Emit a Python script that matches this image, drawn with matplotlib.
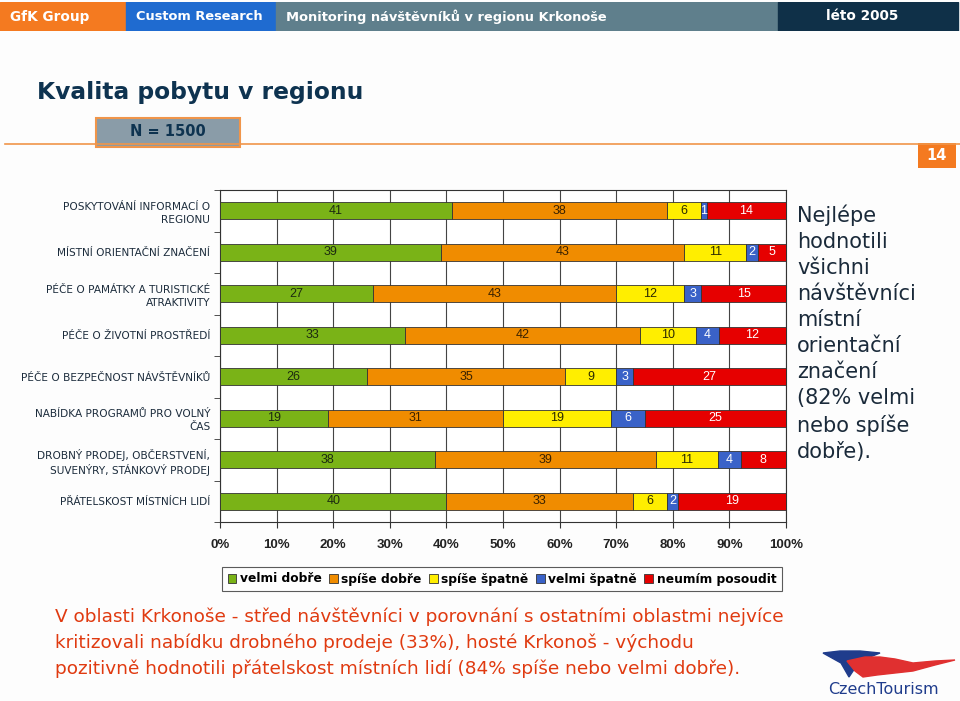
import matplotlib.pyplot as plt
import matplotlib.patches as mpatches
import numpy as np

# data
categories = ["POSKYTOVÁNÍ INFORMACÍ O\nREGIONU",
              "MÍSTNÍ ORIENTAČNÍ ZNAČENÍ",
              "PÉČE O PAMÁTKY A TURISTICKÉ\nATRAKTIVITY",
              "PÉČE O ŽIVOTNÍ PROSTŘEDÍ",
              "PÉČE O BEZPEČNOST NÁVŠTĚVNÍKŮ",
              "NABÍDKA PROGRAMŮ PRO VOLNÝ\nČAS",
              "DROBNÝ PRODEJ, OBČERSTVENÍ,\nSUVENÝRY, STÁNKOVÝ PRODEJ",
              "PŘÁTELSKOST MÍSTNÍCH LIDÍ"]
velmi_dobre = [41, 39, 27, 33, 26, 19, 38, 40]
spise_dobre = [38, 43, 43, 42, 35, 31, 39, 33]
spise_spatne = [6, 11, 12, 10, 9, 19, 11, 6]
velmi_spatne = [1, 2, 3, 4, 3, 6, 4, 2]
neumim = [14, 5, 15, 12, 27, 25, 8, 19]
series_names = ["velmi dobře", "spíše dobře", "spíše špatně", "velmi špatně", "neumím posoudit"]
xticks = [0, 10, 20, 30, 40, 50, 60, 70, 80, 90, 100]

colors = ["#7ab317", "#f08c00", "#ffee00", "#3a62c8", "#e60000"]
text_colors = ["#1c2a10", "#3a2200", "#2a2a00", "white", "white"]

navy = "#0e3350"

fig = plt.figure(figsize=(9.6, 7.01), dpi=100)
fig.patch.set_facecolor("#fdfdfd")

# header bar
hdr = fig.add_axes([0, 1 - 31/701, 1, 29/701])
hdr.set_xlim(0, 960)
hdr.set_ylim(0, 1)
hdr.axis("off")
for x0, x1, c in [(0, 126, "#f47a20"), (126, 276, "#1f6bd0"), (276, 778, "#5f7f8c"), (778, 958, "#0f3048")]:
    hdr.add_patch(mpatches.Rectangle((x0, 0), x1 - x0, 1, color=c))
hdr.text(10, 0.5, "GfK Group", color="white", fontsize=9.8, fontweight="bold", va="center")
hdr.text(136, 0.5, "Custom Research", color="white", fontsize=9.4, fontweight="bold", va="center")
hdr.text(286, 0.5, "Monitoring návštěvníků v regionu Krkonoše", color="white", fontsize=9.4,
         fontweight="bold", va="center")
hdr.text(862, 0.5, "léto 2005", color="white", fontsize=9.8, fontweight="bold", va="center", ha="center")

# title, N box, orange line, page number
fig.text(37/960, 1 - 92/701, "Kvalita pobytu v regionu", color=navy, fontsize=16.8,
         fontweight="bold", va="center")
fig.add_artist(plt.Line2D([5/960, 1], [1 - 144/701] * 2, color="#f0954a", lw=1.2))
fig.add_artist(mpatches.Rectangle((96/960, 1 - 147/701), 144/960, 29/701, transform=fig.transFigure,
                                  facecolor="#8a9ca8", edgecolor="#f0954a", lw=1.5))
fig.text(168/960, 1 - 132/701, "N = 1500", color=navy, fontsize=10.5, fontweight="bold",
         ha="center", va="center")
fig.add_artist(mpatches.Rectangle((918/960, 1 - 168/701), 38/960, 25/701, transform=fig.transFigure,
                                  facecolor="#f47a20", edgecolor="none"))
fig.text(937/960, 1 - 156/701, "14", color="white", fontsize=10.5, fontweight="bold",
         ha="center", va="center")

# main chart
ax = fig.add_axes([220/960, 1 - 522/701, 566/960, 332/701])
data = np.array([velmi_dobre, spise_dobre, spise_spatne, velmi_spatne, neumim], dtype=float)
shares = data / data.sum(axis=0) * 100
y = np.arange(len(categories))
left = np.zeros(len(categories))
for i, name in enumerate(series_names):
    ax.barh(y, shares[i], left=left, height=0.41, color=colors[i], edgecolor="#333333",
            linewidth=0.6, label=name, zorder=3)
    for j in range(len(categories)):
        ax.text(left[j] + shares[i][j] / 2, y[j], "%d" % data[i][j], ha="center", va="center",
                fontsize=9, color=text_colors[i], family="Liberation Sans", zorder=4)
    left += shares[i]

ax.set_xlim(0, 100)
ax.set_ylim(7.48, -0.43)
ax.set_xticks(xticks)
ax.set_xticklabels(["%d%%" % t for t in xticks], fontsize=9.5, fontweight="bold",
                   family="Liberation Sans", color="#222222")
ax.tick_params(axis="x", direction="out", length=4, color="#333333", pad=8)
ax.set_yticks(np.arange(-0.5, 8, 1), minor=True)
ax.set_yticks(y)
ax.set_yticklabels(categories, fontsize=7.6, color="#1d2d3d", linespacing=1.35)
ax.tick_params(axis="y", which="major", length=0, pad=7)
ax.tick_params(axis="y", which="minor", length=4, color="#333333")
ax.grid(axis="x", color="#444444", lw=0.8, zorder=0)
for s in ax.spines.values():
    s.set_color("#333333")
    s.set_linewidth(0.8)

leg = fig.legend(loc="center", bbox_to_anchor=(502/960, 1 - 579/701), ncol=5, frameon=True,
                 fancybox=False, edgecolor="#333333", handlelength=0.7,
                 handleheight=0.7, handletextpad=0.3, columnspacing=0.6, borderpad=0.45,
                 prop={"family": "DejaVu Sans", "weight": "bold", "size": 8.8})
leg.get_frame().set_linewidth(0.8)

# side note
note = "Nejlépe\nhodnotili\nvšichni\nnávštěvníci\nmístní\norientační\nznačení\n(82% velmi\nnebo spíše\ndobře)."
fig.text(797/960, 1 - 205/701, note, color="#1a2a3a", fontsize=15, va="top", ha="left",
         linespacing=1.37)

# bottom comment
comment = ("V oblasti Krkonoše - střed návštěvníci v porovnání s ostatními oblastmi nejvíce\n"
           "kritizovali nabídku drobného prodeje (33%), hosté Krkonoš - východu\n"
           "pozitivně hodnotili přátelskost místních lidí (84% spíše nebo velmi dobře).")
fig.text(55/960, 1 - 608/701, comment, color="#e03a10", fontsize=13.3, va="top", ha="left",
         linespacing=1.5)

# simple CzechTourism logo
lg = fig.add_axes([815/960, 0, 145/960, 60/701])
lg.set_xlim(0, 145)
lg.set_ylim(0, 60)
lg.axis("off")
lg.fill([8, 25, 45, 65, 55, 44, 38, 34, 26], [48, 50, 50, 48, 44, 38, 30, 24, 38], color="#1f3c8c")
lg.fill([32, 50, 65, 80, 98, 120, 140, 120, 98, 80, 62, 48, 40],
        [40, 44, 44, 42, 38, 40, 41, 36, 30, 28, 26, 24, 30], color="#e03030")
lg.text(68, 11, "CzechTourism", color="#1f3c8c", fontsize=11.5, ha="center", va="center")

fig.savefig("out.png", dpi=100, facecolor=fig.get_facecolor())
